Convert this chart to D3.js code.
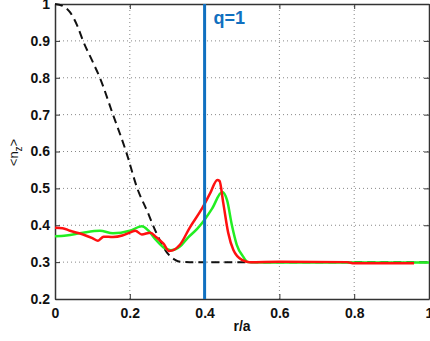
<!DOCTYPE html>
<html>
<head>
<meta charset="utf-8">
<script src="https://cdn.jsdelivr.net/npm/d3@7"></script>
<style>
  body { margin: 0; background: #fff; }
  svg { display: block; font-family: "Liberation Sans", Arial, sans-serif; }
</style>
</head>
<body>
<div id="chart"></div>
<script>
// values
const xTicks = [0, 0.2, 0.4, 0.6, 0.8, 1];
const yTicks = [0.2, 0.3, 0.4, 0.5, 0.6, 0.7, 0.8, 0.9, 1];

const rDash = [0, 0.02, 0.04, 0.06, 0.075, 0.1, 0.12, 0.155, 0.19, 0.22, 0.25, 0.26, 0.28, 0.3, 0.32, 0.335, 0.36, 1.0];
const nDash = [1.0, 0.995, 0.978, 0.94, 0.9, 0.845, 0.8, 0.7, 0.6, 0.5, 0.43, 0.405, 0.36, 0.325, 0.307, 0.301, 0.3, 0.3];

const rGreen = [0, 0.03, 0.075, 0.12, 0.155, 0.2, 0.232, 0.25, 0.27, 0.29, 0.31, 0.334, 0.355, 0.38, 0.4, 0.42, 0.447, 0.46, 0.473, 0.486, 0.503, 0.516, 0.56, 0.7, 1.0];
const nGreen = [0.37, 0.372, 0.38, 0.385, 0.378, 0.385, 0.397, 0.385, 0.36, 0.34, 0.332, 0.342, 0.366, 0.39, 0.415, 0.445, 0.49, 0.468, 0.4, 0.347, 0.315, 0.3, 0.299, 0.299, 0.299];

const rRed = [0, 0.02, 0.04, 0.075, 0.1, 0.115, 0.13, 0.155, 0.18, 0.2, 0.215, 0.232, 0.255, 0.27, 0.29, 0.305, 0.334, 0.36, 0.394, 0.415, 0.434, 0.44, 0.45, 0.463, 0.477, 0.5, 0.52, 0.6, 0.78, 0.8, 0.96];
const nRed = [0.393, 0.392, 0.385, 0.375, 0.365, 0.358, 0.369, 0.368, 0.372, 0.38, 0.385, 0.375, 0.38, 0.368, 0.35, 0.33, 0.347, 0.393, 0.447, 0.487, 0.523, 0.52, 0.46, 0.38, 0.333, 0.306, 0.3, 0.301, 0.3, 0.297, 0.297];

const qLine = 0.4;

const width = 430, height = 341;
const margin = { top: 4, right: 1, bottom: 42, left: 55 };

const svg = d3.select("#chart").append("svg")
    .attr("width", width)
    .attr("height", height);

const x = d3.scaleLinear().domain([0, 1]).range([margin.left, width - margin.right]);
const y = d3.scaleLinear().domain([0.2, 1]).range([height - margin.bottom, margin.top]);

// dotted grid
svg.append("g")
    .selectAll("line")
    .data(xTicks.slice(1, -1))
    .join("line")
    .attr("x1", d => x(d)).attr("x2", d => x(d))
    .attr("y1", y(0.2)).attr("y2", y(1))
    .attr("stroke", "#888")
    .attr("stroke-dasharray", "1,3");

svg.append("g")
    .selectAll("line")
    .data(yTicks.slice(1, -1))
    .join("line")
    .attr("y1", d => y(d)).attr("y2", d => y(d))
    .attr("x1", x(0)).attr("x2", x(1))
    .attr("stroke", "#888")
    .attr("stroke-dasharray", "1,3");

// axes, ticks inward like matlab
const axisColor = "#333";
const bottom = svg.append("g")
    .attr("transform", `translate(0,${y(0.2)})`)
    .call(d3.axisBottom(x).tickValues(xTicks).tickFormat(d3.format("")).tickSizeInner(-5).tickSizeOuter(0).tickPadding(9));
const left = svg.append("g")
    .attr("transform", `translate(${x(0)},0)`)
    .call(d3.axisLeft(y).tickValues(yTicks).tickFormat(d3.format("")).tickSizeInner(-5).tickSizeOuter(0).tickPadding(5));
svg.append("g")
    .attr("transform", `translate(0,${y(1)})`)
    .call(d3.axisTop(x).tickValues(xTicks).tickFormat("").tickSizeInner(-5).tickSizeOuter(0));
svg.append("g")
    .attr("transform", `translate(${x(1)},0)`)
    .call(d3.axisRight(y).tickValues(yTicks).tickFormat("").tickSizeInner(-5).tickSizeOuter(0));

svg.selectAll(".domain").attr("stroke", axisColor).attr("stroke-width", 1.5);
svg.selectAll(".tick line").attr("stroke", axisColor);
svg.selectAll(".tick text")
    .attr("fill", "#111")
    .style("font-size", "14px")
    .style("font-weight", "bold");

// curves
const line = (rs, ns) => d3.line()
    .x((d, i) => x(rs[i]))
    .y((d, i) => y(ns[i]))
    .curve(d3.curveMonotoneX)(ns);

svg.append("path")
    .attr("d", line(rDash, nDash))
    .attr("fill", "none")
    .attr("stroke", "#111")
    .attr("stroke-width", 2)
    .attr("stroke-dasharray", "8,5");

svg.append("path")
    .attr("d", line(rGreen, nGreen))
    .attr("fill", "none")
    .attr("stroke", "#22ee22")
    .attr("stroke-width", 2.5);

svg.append("path")
    .attr("d", line(rRed, nRed))
    .attr("fill", "none")
    .attr("stroke", "#ff1010")
    .attr("stroke-width", 2.5);

// q=1 marker
svg.append("line")
    .attr("x1", x(qLine)).attr("x2", x(qLine))
    .attr("y1", y(1)).attr("y2", y(0.2))
    .attr("stroke", "#1070c0")
    .attr("stroke-width", 3);

svg.append("text")
    .attr("x", x(qLine) + 9)
    .attr("y", 24)
    .attr("fill", "#1070c0")
    .style("font-size", "18px")
    .style("font-weight", "bold")
    .text("q=1");

// axis labels
svg.append("text")
    .attr("x", x(0.5))
    .attr("y", 331)
    .attr("text-anchor", "middle")
    .attr("fill", "#111")
    .style("font-size", "14px")
    .style("font-weight", "bold")
    .text("r/a");

const yl = svg.append("text")
    .attr("transform", `translate(18,${y(0.6) + 1}) rotate(-90)`)
    .attr("text-anchor", "middle")
    .attr("fill", "#111")
    .style("font-size", "13px");
yl.append("tspan").text("<n");
yl.append("tspan").attr("dy", 4).style("font-size", "10px").text("z");
yl.append("tspan").attr("dy", -4).text(">");
</script>
</body>
</html>
